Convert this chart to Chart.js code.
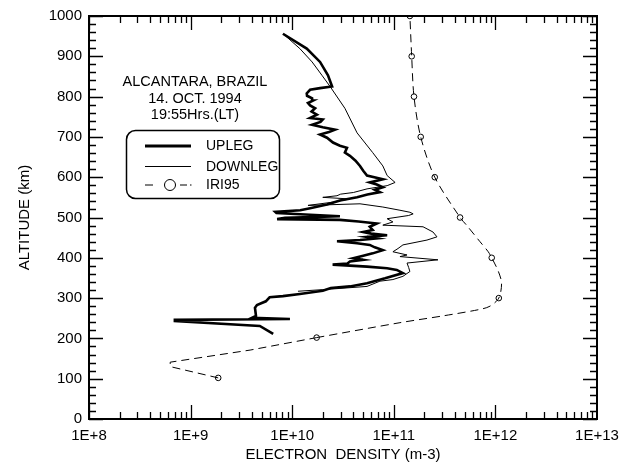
<!DOCTYPE html>
<html>
<head>
<meta charset="utf-8">
<script src="https://cdn.jsdelivr.net/npm/chart.js@4"></script>
<style>
html, body { margin: 0; padding: 0; background: #fff; }
</style>
</head>
<body>
<canvas id="profile" width="631" height="463"></canvas>
<script>
// altitude in km, electron density in m-3
const upAlt = [211, 231, 243, 246, 248, 251, 256, 276, 283, 292, 302, 305, 310, 318, 325, 329, 337, 349, 362, 370,
    374, 378, 383, 386, 391, 395, 399, 405, 411, 419, 426, 432, 436, 441, 444, 448, 452, 456, 460, 464,
    469, 477, 485, 490, 494, 496, 499, 503, 507, 511, 514, 518, 523, 532, 542, 550, 557, 563, 569, 575,
    582, 587, 595, 604, 616, 628, 641, 653, 661, 673, 678, 686, 698, 706, 712, 718, 724, 730, 737, 743,
    747, 755, 763, 771, 778, 784, 790, 796, 802, 808, 817, 821, 825, 853, 886, 919, 956];
const upDensity = [6.5e9, 4.8e9, 7.0e8, 7.0e8, 9.5e9, 4.0e9, 4.4e9, 4.3e9, 4.5e9, 5.5e9, 6.0e9, 8.1e9, 1.19e10, 2.0e10, 2.4e10, 3.7e10, 5.45e10, 8.2e10, 1.23e11, 1.07e11,
    8.6e10, 5.45e10, 2.5e10, 3.5e10, 3.7e10, 5.0e10, 4.0e10, 5.0e10, 6.2e10, 7.8e10, 6.5e10, 5.8e10, 4.35e10, 2.76e10, 4.65e10, 6.8e10, 5.45e10, 8.6e10, 6.0e10, 5.0e10,
    6.2e10, 5.8e10, 6.8e10, 4.5e10, 2.95e10, 7.1e9, 8.5e9, 2.95e10, 1.5e10, 7.0e9, 6.8e9, 1.2e10, 1.5e10, 2.2e10, 2.95e10, 4.35e10, 5.5e10, 7.3e10, 6.5e10, 7.8e10,
    6.8e10, 5.8e10, 7.8e10, 5.45e10, 5.0e10, 4.65e10, 4.2e10, 3.7e10, 3.3e10, 3.46e10, 2.95e10, 2.52e10, 2.2e10, 1.88e10, 2.3e10, 2.64e10, 2.0e10, 1.57e10, 1.9e10, 2.0e10,
    1.5e10, 1.75e10, 1.55e10, 1.68e10, 1.5e10, 1.43e10, 1.6e10, 1.57e10, 1.4e10, 1.39e10, 1.5e10, 1.88e10, 2.47e10, 2.25e10, 1.88e10, 1.39e10, 8.1e9];

const downAlt = [954, 919, 886, 853, 825, 771, 710, 661, 628, 604, 587, 579, 571, 562, 558, 554, 550, 546, 538, 530,
    534, 526, 518, 513, 509, 505, 497, 489, 481, 477, 464, 452, 444, 432, 423, 415, 407, 403, 395, 387,
    376, 366, 354, 346, 342, 329, 324, 321, 317];
const downDensity = [8.3e9, 1.19e10, 1.57e10, 1.96e10, 2.36e10, 3.3e10, 4.35e10, 6.2e10, 7.8e10, 8.6e10, 1.03e11, 8.6e10, 5.45e10, 4.0e10, 3.0e10, 2.76e10, 2.0e10, 3.7e10, 2.5e10, 1.43e10,
    4.65e10, 7.8e10, 1.15e11, 1.44e11, 1.55e11, 1.4e11, 8.6e10, 9.8e10, 7.8e10, 1.94e11, 2.43e11, 2.66e11, 2.12e11, 1.23e11, 1.1e11, 9.8e10, 1.35e11, 1.15e11, 2.72e11, 1.35e11,
    1.4e11, 1.44e11, 1.23e11, 9.8e10, 7.3e10, 5.45e10, 2.95e10, 2.0e10, 1.14e10];

// IRI95 model curve: lower (E region) part and upper (F region) part, plus plotted symbols
const iriLowAlt = [102, 130, 141, 171, 202];
const iriLowDensity = [1.87e9, 6.3e8, 6.3e8, 3.85e9, 1.74e10];
const iriAlt = [202, 239, 256, 272, 280, 300, 337, 366, 400, 415, 440, 481, 500, 600, 700, 800, 900, 1000];
const iriDensity = [1.74e10, 1.15e11, 3.07e11, 7.05e11, 8.85e11, 1.08e12, 1.15e12, 1.07e12, 9.2e11, 8.5e11, 7.05e11, 5.2e11, 4.49e11, 2.53e11, 1.84e11, 1.58e11, 1.5e11, 1.44e11];
const iriMarkAlt = [102, 202, 300, 400, 500, 600, 700, 800, 900, 1000];
const iriMarkDensity = [1.87e9, 1.74e10, 1.08e12, 9.2e11, 4.49e11, 2.53e11, 1.84e11, 1.58e11, 1.5e11, 1.44e11];

const xExponents = [8, 9, 10, 11, 12, 13];
const yTicks = [0, 100, 200, 300, 400, 500, 600, 700, 800, 900, 1000];
const seriesNames = ['UPLEG', 'DOWNLEG', 'IRI95'];
const noteLines = ['ALCANTARA, BRAZIL', '14. OCT. 1994', '19:55Hrs.(LT)'];

const FONT = '"Liberation Sans", Arial, sans-serif';
const pairs = (xs, ys) => xs.map((x, i) => ({x, y: ys[i]}));

Chart.defaults.font.family = FONT;
Chart.defaults.font.size = 15;
Chart.defaults.color = '#000';

// frame with inward ticks, annotation and legend box
const framePlugin = {
    id: 'frame',
    afterDraw(chart) {
        const ctx = chart.ctx;
        const {left, right, top, bottom} = chart.chartArea;
        const xs = chart.scales.x, ys = chart.scales.y;
        ctx.save();
        ctx.strokeStyle = '#000';
        ctx.lineWidth = 1.3;
        ctx.beginPath();
        for (let v = 0; v <= 1000; v += 20) {
            const py = Math.round(ys.getPixelForValue(v)) + 0.5;
            const len = v % 100 === 0 ? 14 : 7;
            ctx.moveTo(left, py); ctx.lineTo(left + len, py);
            ctx.moveTo(right, py); ctx.lineTo(right - len, py);
        }
        for (let e = 8; e < 13; e++) {
            for (let k = 1; k <= 9; k++) {
                const px = Math.round(xs.getPixelForValue(k * 10 ** e)) + 0.5;
                const len = k === 1 ? 14 : 7;
                ctx.moveTo(px, bottom); ctx.lineTo(px, bottom - len);
                ctx.moveTo(px, top); ctx.lineTo(px, top + len);
            }
        }
        ctx.stroke();
        ctx.lineWidth = 2;
        ctx.strokeRect(left, top, right - left, bottom - top);

        ctx.fillStyle = '#000';
        ctx.textAlign = 'center';
        ctx.textBaseline = 'middle';
        ctx.font = '14.5px ' + FONT;
        noteLines.forEach((t, i) => ctx.fillText(t, 195, 82 + i * 16.5));

        // legend
        ctx.lineWidth = 1.5;
        ctx.beginPath();
        ctx.roundRect(126.5, 130.5, 153, 68, 9);
        ctx.stroke();
        ctx.textAlign = 'left';
        ctx.font = '14px ' + FONT;
        const rows = [146, 166.5, 185];
        ctx.lineWidth = 2.8;
        ctx.beginPath(); ctx.moveTo(145, rows[0]); ctx.lineTo(191, rows[0]); ctx.stroke();
        ctx.lineWidth = 1;
        ctx.beginPath(); ctx.moveTo(145, rows[1]); ctx.lineTo(191, rows[1]); ctx.stroke();
        ctx.beginPath();
        ctx.moveTo(145, rows[2]); ctx.lineTo(153, rows[2]);
        ctx.moveTo(164, rows[2]); ctx.lineTo(176, rows[2]);
        ctx.moveTo(180, rows[2]); ctx.lineTo(187, rows[2]);
        ctx.moveTo(190, rows[2]); ctx.lineTo(191.5, rows[2]);
        ctx.stroke();
        ctx.beginPath(); ctx.arc(170, rows[2], 5.5, 0, Math.PI * 2);
        ctx.fillStyle = '#fff'; ctx.fill(); ctx.stroke();
        ctx.fillStyle = '#000';
        seriesNames.forEach((n, i) => ctx.fillText(n, 206, rows[i] + 0.5));
        ctx.restore();
    }
};

const iriStyle = {
    showLine: true,
    borderColor: '#000',
    borderWidth: 1,
    borderDash: [8, 5],
    pointRadius: 0
};

new Chart(document.getElementById('profile'), {
    type: 'scatter',
    data: {
        datasets: [
            {...iriStyle, label: seriesNames[2], data: pairs(iriLowDensity, iriLowAlt), tension: 0},
            {...iriStyle, label: seriesNames[2], data: pairs(iriDensity, iriAlt), tension: 0.3},
            {
                label: seriesNames[2] + ' points',
                data: pairs(iriMarkDensity, iriMarkAlt),
                showLine: false,
                pointRadius: 2.8,
                pointBorderWidth: 1,
                pointBorderColor: '#000',
                pointBackgroundColor: '#fff'
            },
            {
                label: seriesNames[1],
                data: pairs(downDensity, downAlt),
                showLine: true,
                borderColor: '#000',
                borderWidth: 1,
                pointRadius: 0
            },
            {
                label: seriesNames[0],
                data: pairs(upDensity, upAlt),
                showLine: true,
                borderColor: '#000',
                borderWidth: 2.6,
                pointRadius: 0
            }
        ]
    },
    options: {
        responsive: false,
        animation: false,
        devicePixelRatio: 1,
        layout: {padding: {top: 12, right: 34, left: 0, bottom: 0}},
        plugins: {legend: {display: false}, tooltip: {enabled: false}},
        scales: {
            x: {
                type: 'logarithmic',
                min: 1e8,
                max: 1e13,
                grid: {display: false, drawTicks: false},
                border: {display: false},
                afterBuildTicks: s => { s.ticks = xExponents.map(e => ({value: 10 ** e})); },
                ticks: {
                    autoSkip: false,
                    maxRotation: 0,
                    padding: 8,
                    callback: v => '1E+' + Math.round(Math.log10(v))
                },
                title: {display: true, text: 'ELECTRON  DENSITY (m-3)', padding: {top: 0, bottom: -1}},
                afterFit: s => { s.height = 44; }
            },
            y: {
                min: 0,
                max: 1000,
                grid: {display: false, drawTicks: false},
                border: {display: false},
                afterBuildTicks: s => { s.ticks = yTicks.map(v => ({value: v})); },
                ticks: {padding: 7, callback: v => String(v)},
                title: {display: true, text: 'ALTITUDE (km)', padding: {top: 16, bottom: 0}},
                afterFit: s => { s.width = 89; }
            }
        }
    },
    plugins: [framePlugin]
});
</script>
</body>
</html>
